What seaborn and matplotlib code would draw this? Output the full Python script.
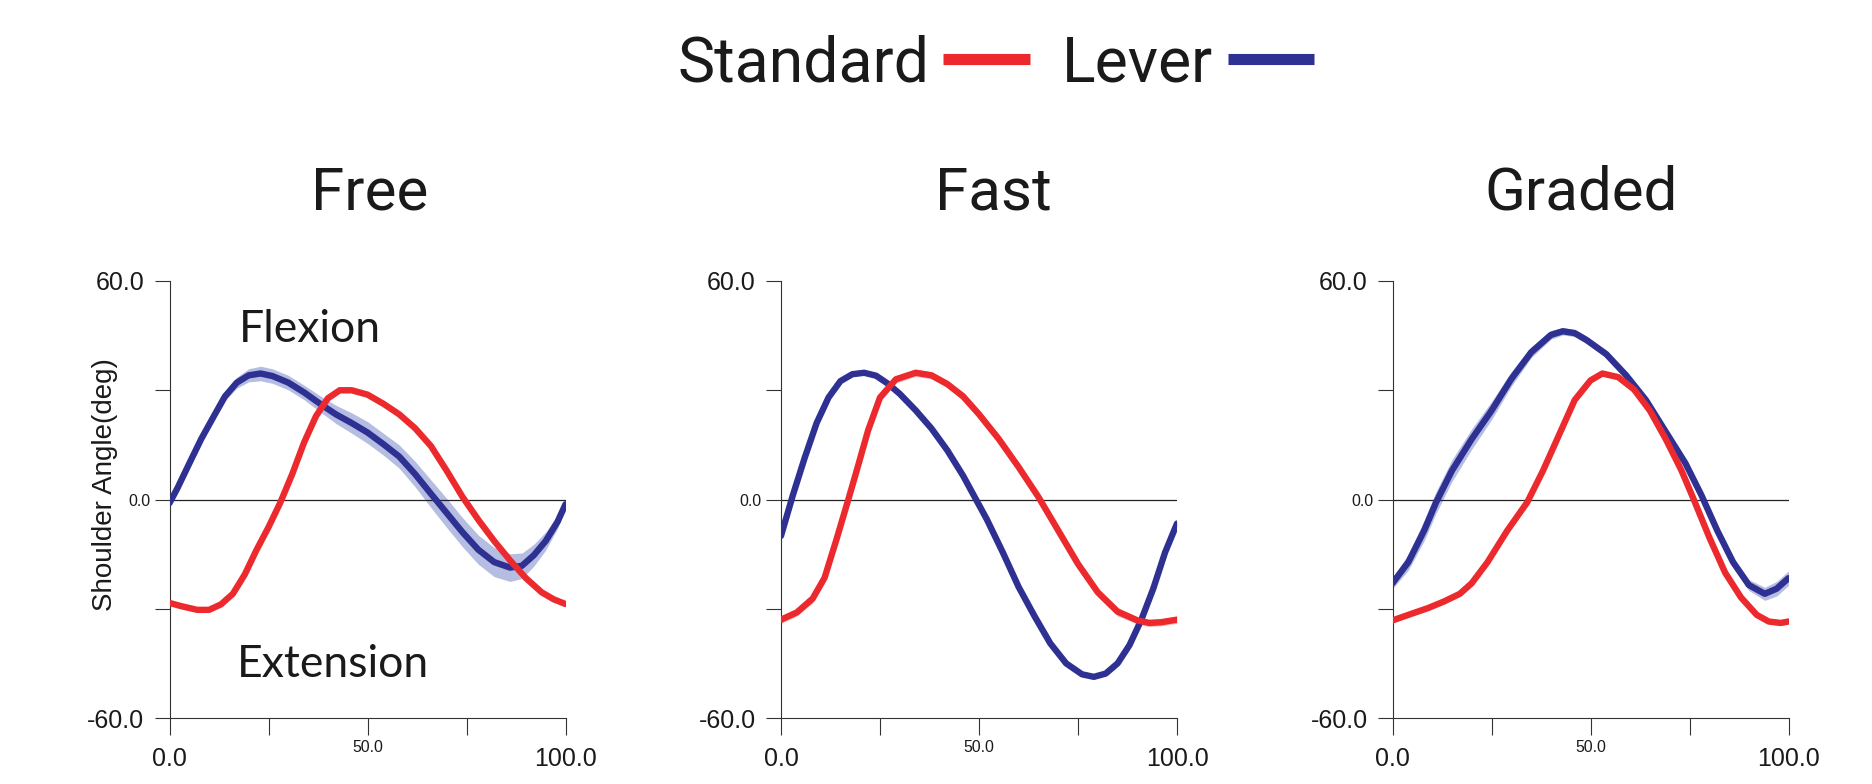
import numpy as np
import pandas as pd
import matplotlib
matplotlib.use("Agg")
import matplotlib.pyplot as plt
import seaborn as sns
from matplotlib import font_manager as fm

# ---------------- data ----------------
conditions = ["Free", "Fast", "Graded"]
devices = ["Standard", "Lever"]

free_std_x = [0, 3, 7, 10, 13, 16, 19, 22, 25, 28, 31, 34, 37, 40, 43, 46, 50, 54, 58, 62, 66, 70, 74, 78, 82, 86, 90, 94, 97, 100]
free_std_y = [-28.4, -29.3, -30.3, -30.3, -28.8, -25.9, -20.6, -13.8, -7.6, -0.8, 7.0, 15.7, 22.9, 27.8, 30.0, 30.0, 28.8, 26.3, 23.4, 19.6, 14.7, 7.9, 0.7, -5.6, -11.4, -16.7, -21.6, -25.5, -27.4, -28.7]
free_std_sd = [0.6, 0.6, 0.6, 0.6, 0.6, 0.7, 0.8, 0.9, 1.0, 1.0, 1.0, 1.0, 0.9, 0.8, 0.7, 0.7, 0.7, 0.7, 0.7, 0.7, 0.7, 0.7, 0.7, 0.7, 0.7, 0.7, 0.7, 0.7, 0.6, 0.6]

free_lev_x = [0, 2, 5, 8, 11, 14, 17, 20, 23, 26, 30, 34, 38, 42, 46, 50, 54, 58, 62, 66, 70, 74, 78, 82, 86, 89, 92, 95, 98, 100]
free_lev_y = [-1.0, 3.1, 9.9, 16.6, 22.5, 28.3, 32.1, 34.1, 34.6, 33.9, 32.1, 29.4, 26.3, 23.4, 21.0, 18.4, 15.2, 11.8, 7.0, 1.6, -3.7, -9.0, -13.8, -17.2, -18.7, -18.2, -15.3, -11.4, -6.1, -1.3]
free_lev_sd = [0.8, 0.8, 1.0, 1.0, 1.0, 1.2, 1.5, 1.8, 2.0, 2.0, 2.0, 2.0, 2.2, 2.5, 2.8, 3.0, 3.0, 3.2, 3.5, 3.8, 4.0, 4.0, 4.0, 4.0, 3.8, 3.5, 3.0, 2.5, 1.8, 1.2]

fast_std_x = [0, 4, 8, 11, 14, 17, 19, 22, 25, 29, 34, 38, 42, 46, 50, 55, 60, 65, 70, 75, 80, 85, 90, 93, 96, 100]
fast_std_y = [-33.0, -31.0, -27.2, -21.5, -11.0, 0.0, 7.5, 19.0, 28.0, 33.0, 34.8, 34.1, 31.7, 28.3, 23.4, 16.6, 8.9, 0.7, -8.5, -17.7, -25.5, -30.8, -33.2, -33.9, -33.7, -33.0]
fast_std_sd = [1.0, 1.0, 1.2, 1.2, 1.2, 1.2, 1.2, 1.2, 1.2, 1.0, 1.0, 1.0, 1.0, 1.2, 1.2, 1.2, 1.2, 1.2, 1.2, 1.2, 1.2, 1.2, 1.0, 1.0, 1.0, 1.0]

fast_lev_x = [0, 3, 6, 9, 12, 15, 18, 21, 24, 27, 30, 34, 38, 42, 46, 49, 52, 56, 60, 64, 68, 72, 76, 79, 82, 85, 88, 91, 94, 97, 100]
fast_lev_y = [-10.0, 1.2, 11.5, 21.0, 28.0, 32.5, 34.4, 34.8, 34.0, 31.8, 29.0, 24.5, 19.5, 13.5, 6.5, 0.5, -5.5, -14.5, -24.0, -32.0, -39.5, -45.0, -48.0, -48.7, -47.8, -45.0, -40.0, -33.0, -24.5, -14.5, -6.6]
fast_lev_sd = [0.6] * 31

graded_std_x = [0, 5, 9, 13, 17, 20, 24, 29, 34, 38, 42, 46, 50, 53, 57, 61, 65, 69, 73, 76, 80, 84, 88, 92, 95, 98, 100]
graded_std_y = [-33.2, -31.3, -29.8, -28.0, -25.9, -23.0, -17.2, -8.5, -0.8, 7.9, 17.6, 27.3, 32.7, 34.6, 33.6, 30.2, 24.4, 16.6, 7.9, 0.2, -10.4, -20.1, -26.9, -31.7, -33.5, -33.9, -33.5]
graded_std_sd = [0.7] * 27

graded_lev_x = [0, 4, 8, 11, 15, 20, 25, 30, 35, 40, 43, 46, 49, 54, 59, 64, 69, 74, 78, 82, 86, 90, 94, 97, 100]
graded_lev_y = [-23.0, -17.2, -8.5, -0.8, 7.9, 16.6, 24.4, 33.1, 40.4, 45.2, 46.2, 45.7, 43.8, 39.9, 34.1, 27.3, 18.6, 9.9, 1.2, -8.5, -17.2, -23.5, -25.9, -24.5, -21.6]
graded_lev_sd = [1.5, 2.2, 2.8, 3.0, 3.0, 2.8, 2.5, 2.0, 1.5, 1.2, 1.0, 1.0, 1.0, 1.0, 1.0, 1.2, 1.2, 1.2, 1.2, 1.2, 1.2, 1.5, 1.8, 2.0, 2.0]

x_ticks = [0, 25, 50, 75, 100]
x_tick_labels = ["0.0", "", "50.0", "", "100.0"]
y_ticks = [-60, -30, 0, 30, 60]
y_tick_labels = ["-60.0", "", "0.0", "", "60.0"]
y_label = "Shoulder Angle(deg)"
flexion_label = "Flexion"
extension_label = "Extension"

# ---------------- assemble table ----------------
series = {
    ("Free", "Standard"): (free_std_x, free_std_y, free_std_sd),
    ("Free", "Lever"): (free_lev_x, free_lev_y, free_lev_sd),
    ("Fast", "Standard"): (fast_std_x, fast_std_y, fast_std_sd),
    ("Fast", "Lever"): (fast_lev_x, fast_lev_y, fast_lev_sd),
    ("Graded", "Standard"): (graded_std_x, graded_std_y, graded_std_sd),
    ("Graded", "Lever"): (graded_lev_x, graded_lev_y, graded_lev_sd),
}
rows = []
for (cond, dev), (xs, ys, ss) in series.items():
    for xv, yv, sv in zip(xs, ys, ss):
        rows.append({"condition": cond, "device": dev, "pct": xv, "angle": yv, "sd": sv})
df = pd.DataFrame(rows)

# ---------------- style ----------------
sns.set_style("white")
avail = {f.name for f in fm.fontManager.ttflist}
if "Liberation Sans Narrow" in avail:
    COND = ["Liberation Sans Narrow", "DejaVu Sans"]
    cs = 1.0
else:
    COND = ["Roboto", "DejaVu Sans"]
    cs = 0.9
SANS = ["Liberation Sans", "DejaVu Sans"]
HUM = ["Lato", "Open Sans", "DejaVu Sans"]
plt.rcParams["font.family"] = SANS

RED = "#EC2A2E"
BLUE = "#2E3192"
palette = {"Standard": RED, "Lever": BLUE}
band_col = {"Standard": "#F6B3B1", "Lever": "#A9B2DE"}

W, H = 1872, 784
fig = plt.figure(figsize=(W / 100, H / 100), dpi=100)
fig.patch.set_facecolor("white")

ax_left = [169.5, 781.0, 1392.5]
ax_w = 396.0
ax_bottom_px = 718.0
ax_top_px = 281.0
axes = []
for lx in ax_left:
    ax = fig.add_axes([lx / W, (H - ax_bottom_px) / H, ax_w / W, (ax_bottom_px - ax_top_px) / H])
    axes.append(ax)

title_x = {"Free": 0.506, "Fast": 0.535, "Graded": 0.476}

for ax, cond in zip(axes, conditions):
    sub = df[df["condition"] == cond]
    for dev in ["Lever", "Standard"]:
        d = sub[sub["device"] == dev]
        ax.fill_between(d["pct"], d["angle"] - d["sd"], d["angle"] + d["sd"],
                        color=band_col[dev], lw=0, alpha=0.85, zorder=1)
    ax.axhline(0, color="#222222", lw=0.9, zorder=2)
    sns.lineplot(data=sub, x="pct", y="angle", hue="device", hue_order=["Lever", "Standard"],
                 palette=palette, linewidth=4.6, ax=ax, errorbar=None,
                 legend=(cond == "Free"), zorder=3, solid_capstyle="round",
                 solid_joinstyle="round")
    ax.set_xlim(0, 100)
    ax.set_ylim(-60, 60)
    ax.set_xticks(x_ticks, x_tick_labels)
    ax.set_yticks(y_ticks, y_tick_labels)
    ax.tick_params(axis="both", direction="out", width=0.8, color="#333333",
                   labelcolor="#1a1a1a", labelsize=18, bottom=True, left=True)
    ax.tick_params(axis="x", length=12.2, pad=8.5)
    ax.tick_params(axis="y", length=10.8, pad=7.2)
    for s in ["top", "right"]:
        ax.spines[s].set_visible(False)
    for s in ["left", "bottom"]:
        ax.spines[s].set_linewidth(0.8)
        ax.spines[s].set_color("#333333")
    ax.set_facecolor("white")
    ax.set_xlabel("")
    ax.set_ylabel("")
    ax.set_title(cond, fontsize=48 * cs, family=COND, pad=51.8, x=title_x[cond], color="#1a1a1a")
    xt = ax.xaxis.get_major_ticks()
    xt[2].label1.set_fontsize(11.4)
    xt[2].set_pad(3.5)
    yt = ax.yaxis.get_major_ticks()
    yt[2].label1.set_fontsize(11.4)
    yt[2].set_pad(3.2)

axes[0].set_ylabel(y_label, fontsize=20, family=SANS, color="#1a1a1a")
axes[0].yaxis.set_label_coords(-0.13, 0.535)
axes[0].text(17.5, 43.3, flexion_label, fontsize=32, family=HUM, va="baseline", ha="left", color="#1a1a1a")
axes[0].text(16.9, -48.7, extension_label, fontsize=32, family=HUM, va="baseline", ha="left", color="#1a1a1a")

# legend: labels before handles, placed at the top of the figure
leg0 = axes[0].get_legend()
hmap = {t.get_text(): h for t, h in zip(leg0.get_texts(), leg0.legend_handles)}
leg0.remove()
leg = fig.legend([hmap[d] for d in devices], devices, loc="center",
                 bbox_to_anchor=(995.5 / W, 1 - 64 / H), ncol=2, frameon=False,
                 markerfirst=False, handlelength=1.38, handletextpad=0.23, columnspacing=0.52,
                 prop={"family": COND, "size": 50 * cs})
for line in leg.get_lines():
    line.set_linewidth(8)
    line.set_solid_capstyle("butt")
for t in leg.get_texts():
    t.set_color("#1a1a1a")

fig.savefig("out.png", dpi=100)
